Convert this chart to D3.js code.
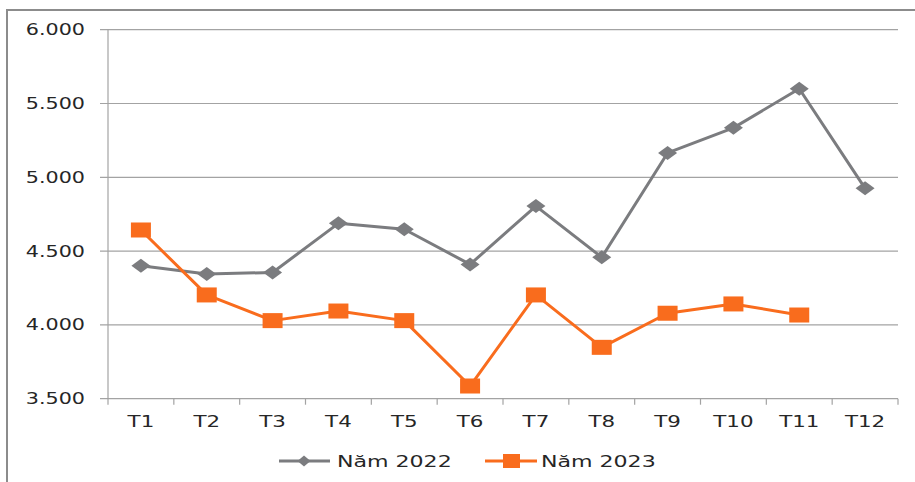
<!DOCTYPE html>
<html><head><meta charset="utf-8">
<script src="https://cdn.jsdelivr.net/npm/d3@7"></script>
<style>body{margin:0;background:#fff}svg{display:block}</style>
</head><body>
<svg id="c" width="915" height="482"></svg>
<script>
const categories = ["T1","T2","T3","T4","T5","T6","T7","T8","T9","T10","T11","T12"];
const values2022 = [4400,4345,4355,4688,4648,4410,4805,4458,5165,5335,5600,4925];
const values2023 = [4643,4203,4029,4094,4029,3586,4203,3848,4079,4142,4067,null];
const yTicks = [3500,4000,4500,5000,5500,6000];
const seriesNames = ["Năm 2022","Năm 2023"];

const svg = d3.select("#c");
const FONT = "DejaVu Sans";
const SX = 1.38;
const gray = "#7b7c7f", orange = "#f96c1d", grid = "#a3a3a3";

svg.append("rect").attr("x",7).attr("y",10).attr("width",930).attr("height",500)
  .attr("fill","none").attr("stroke","#8c8c8c").attr("stroke-width",2);

const x = d3.scaleBand().domain(categories).range([108,898]);
const y = d3.scaleLinear().domain([3500,6000]).range([398.7,29.7]);
const cx = d => x(d) + x.bandwidth()/2;

// gridlines + y ticks
svg.append("g").selectAll("line").data(yTicks).join("line")
  .attr("x1",100).attr("x2",898).attr("y1",d=>y(d)).attr("y2",d=>y(d))
  .attr("stroke",grid).attr("stroke-width",1.2);
// left axis
svg.append("line").attr("x1",108).attr("x2",108).attr("y1",y(6000)).attr("y2",y(3500))
  .attr("stroke",grid).attr("stroke-width",1.2);
// x ticks
const bounds = categories.map(c=>x(c)).concat([898]);
svg.append("g").selectAll("line").data(bounds).join("line")
  .attr("x1",d=>d).attr("x2",d=>d).attr("y1",y(3500)).attr("y2",y(3500)+6)
  .attr("stroke",grid).attr("stroke-width",1.2);

const fmt = d => d3.format(",")(d).replace(/,/g,".").replace(/^(\d)$/, "$1") ;
const fmtY = d => { const s = String(d); return s.slice(0,1)+"."+s.slice(1); };

svg.append("g").selectAll("text").data(yTicks).join("text")
  .attr("transform",d=>`translate(85,${y(d)}) scale(${SX},1)`)
  .attr("text-anchor","end").attr("dy","0.36em")
  .attr("font-family",FONT).attr("font-size",15).attr("fill","#262626")
  .text(fmtY);

svg.append("g").selectAll("text").data(categories).join("text")
  .attr("transform",d=>`translate(${cx(d)},${421.5}) scale(${SX},1)`)
  .attr("text-anchor","middle").attr("dy","0.36em")
  .attr("font-family",FONT).attr("font-size",15.5).attr("fill","#262626")
  .text(d=>d);

const line = d3.line().defined(d=>d.v!=null).x(d=>cx(d.c)).y(d=>y(d.v));
const d22 = categories.map((c,i)=>({c,v:values2022[i]}));
const d23 = categories.map((c,i)=>({c,v:values2023[i]})).filter(d=>d.v!=null);

svg.append("path").datum(d22).attr("d",line).attr("fill","none")
  .attr("stroke",gray).attr("stroke-width",3).attr("stroke-linejoin","round");
svg.append("path").datum(d23).attr("d",line).attr("fill","none")
  .attr("stroke",orange).attr("stroke-width",3).attr("stroke-linejoin","round");

const diamond = (w,h) => `M0,${-h/2}L${w/2},0L0,${h/2}L${-w/2},0Z`;
svg.append("g").selectAll("path").data(d22).join("path")
  .attr("transform",d=>`translate(${cx(d.c)},${y(d.v)})`)
  .attr("d",diamond(19,14)).attr("fill",gray);
svg.append("g").selectAll("rect").data(d23).join("rect")
  .attr("x",d=>cx(d.c)-10).attr("y",d=>y(d.v)-7.5).attr("width",20).attr("height",15)
  .attr("fill",orange);

// legend
const lg = svg.append("g");
lg.append("line").attr("x1",279).attr("x2",330).attr("y1",461).attr("y2",461).attr("stroke",gray).attr("stroke-width",3);
lg.append("path").attr("transform","translate(304,461)").attr("d",diamond(13,11)).attr("fill",gray);
lg.append("text").attr("transform",`translate(337,461) scale(${SX},1)`).attr("dy","0.36em")
  .attr("font-family",FONT).attr("font-size",16).attr("fill","#262626").text(seriesNames[0]);
lg.append("line").attr("x1",485).attr("x2",537).attr("y1",461).attr("y2",461).attr("stroke",orange).attr("stroke-width",3);
lg.append("rect").attr("x",503).attr("y",454).attr("width",17).attr("height",14).attr("fill",orange);
lg.append("text").attr("transform",`translate(541,461) scale(${SX},1)`).attr("dy","0.36em")
  .attr("font-family",FONT).attr("font-size",16).attr("fill","#262626").text(seriesNames[1]);
</script>
</body></html>
